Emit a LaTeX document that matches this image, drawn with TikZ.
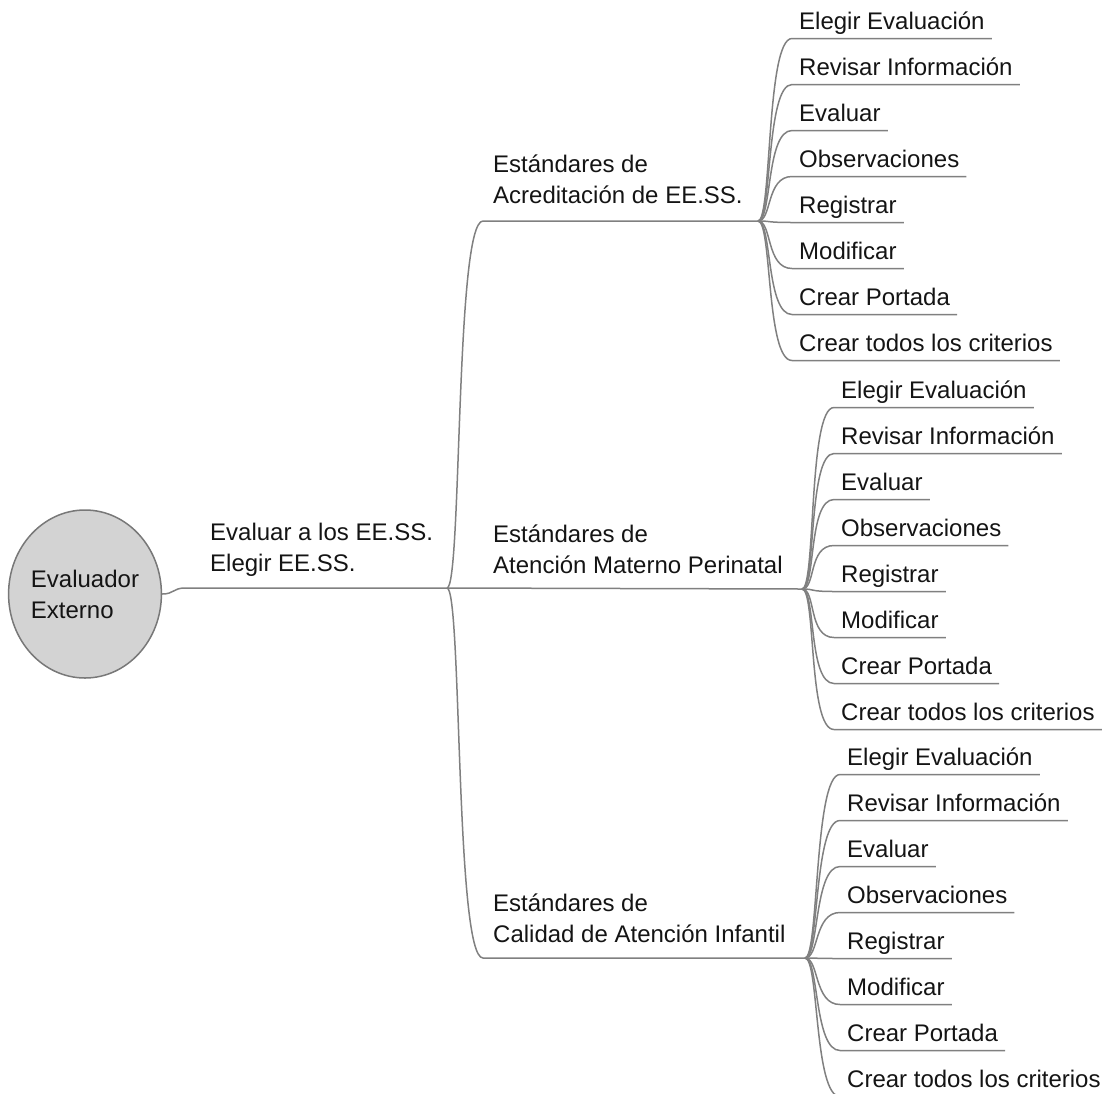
\documentclass[tikz,border=0pt]{standalone}
\usepackage{fontspec}
\setmainfont{Liberation Sans}
\usetikzlibrary{shapes.geometric}
\definecolor{linec}{RGB}{128,128,128}
\definecolor{rootfill}{RGB}{211,211,211}
\definecolor{rootline}{RGB}{120,120,120}
\definecolor{txt}{RGB}{20,20,20}
\begin{document}
\begin{tikzpicture}[x=1pt,y=-1pt,
  conn/.style={draw=linec,line width=1.5pt},
  txtfont/.style={font=\fontsize{24}{31}\selectfont,text=txt},
  leaf/.style={txtfont,anchor=south west,inner xsep=7pt,inner ysep=9pt,text depth=0pt},
  lbl/.style={txtfont,anchor=south west,inner sep=0pt,text depth=0pt,align=left},
  rootnode/.style={ellipse,draw=rootline,line width=1.5pt,fill=rootfill,minimum width=146pt,minimum height=168pt,inner sep=0pt,txtfont,align=left}
]
\useasboundingbox (0,0) rectangle (1118,1093);
\clip (0,0) rectangle (1118,1093);

% root
\node[rootnode] (root) at (85,594) {Evaluador\\Externo};

% first-level connector and its label
\coordinate (r1) at (185,588);
\coordinate (j0) at (447,588);
\node[lbl] (lbl0) at (210,572) {Evaluar a los EE.SS.\\Elegir EE.SS.};
\draw[conn] (root.east) .. controls +(12,0) and +(-12,0) .. (r1) -- (j0);

% branches
\coordinate (s1) at (483,221);
\coordinate (j1) at (758,221);
\coordinate (j2) at (802,589);
\coordinate (s3) at (483,958);
\coordinate (j3) at (805,958);

\node[lbl] (b1) at (493,204) {Estándares de\\Acreditación de EE.SS.};
\node[lbl] (b2) at (493,574) {Estándares de\\Atención Materno Perinatal};
\node[lbl] (b3) at (493,943) {Estándares de\\Calidad de Atención Infantil};

\draw[conn] (j0) .. controls +(15,0) and +(-28,0) .. (s1) -- (j1);
\draw[conn] (j0) -- (j2);
\draw[conn] (j0) .. controls +(15,0) and +(-28,0) .. (s3) -- (j3);

% leaves
\foreach \b/\lx/\ly in {1/792/38.5, 2/834/407.5, 3/840/774.5} {
  \foreach \t [count=\i from 0] in {Elegir Evaluación, Revisar Información, Evaluar, Observaciones, Registrar, Modificar, Crear Portada, Crear todos los criterios} {
    \node[leaf] (l\b\i) at (\lx,\ly+46*\i) {\t};
    \draw[conn] (j\b) .. controls +(14,0) and +(-26,0) .. (l\b\i.south west) -- (l\b\i.south east);
  }
}
\end{tikzpicture}
\end{document}
